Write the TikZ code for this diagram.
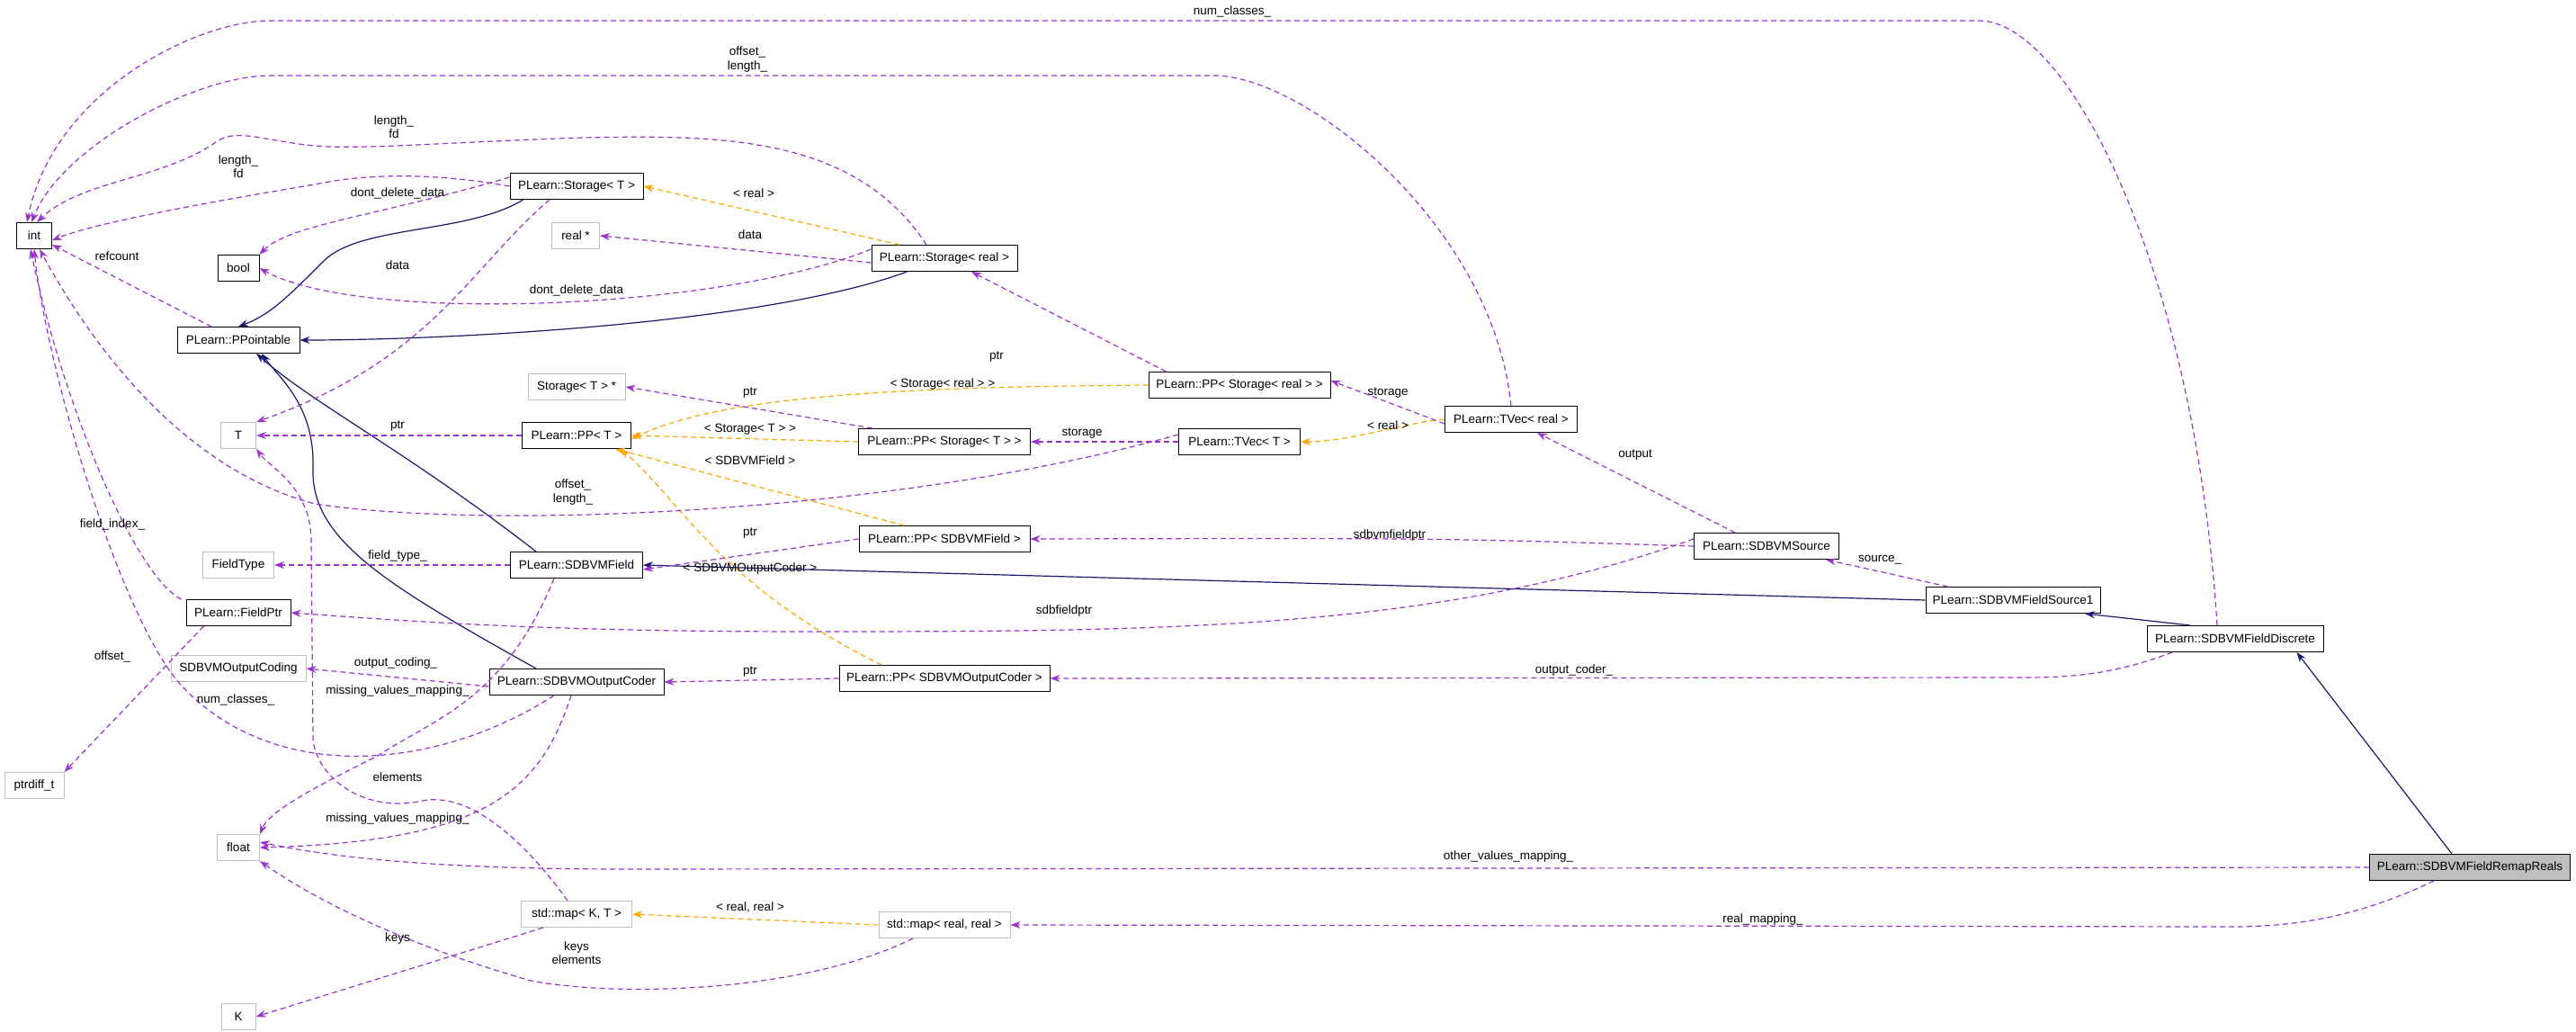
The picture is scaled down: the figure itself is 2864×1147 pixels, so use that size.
\documentclass[tikz,border=0pt]{standalone}
\usepackage{fontspec}
\setmainfont{Liberation Sans}
\usetikzlibrary{arrows.meta}
\definecolor{pu}{HTML}{9A32CD}
\definecolor{orx}{HTML}{FFA500}
\definecolor{nv}{HTML}{191970}
\begin{document}
\begin{tikzpicture}[x=1pt,y=-1pt,
  every node/.style={font=\fontsize{13.5}{15.5}\selectfont},
  cls/.style={draw=black,line width=1pt,minimum height=29pt,inner sep=2pt,fill=white},
  ext/.style={draw=black!25,line width=1pt,minimum height=29pt,inner sep=2pt,fill=white},
  use/.style={draw=pu,line width=1.2pt,dash pattern=on 6pt off 4pt,-{Stealth[length=11pt,width=8pt]}},
  tpl/.style={draw=orx,line width=1.2pt,dash pattern=on 6pt off 4pt,-{Stealth[length=11pt,width=8pt]}},
  inh/.style={draw=nv,line width=1.2pt,-{Stealth[length=11pt,width=8pt]}},
  lbl/.style={inner sep=1pt}]
\useasboundingbox (0,0) rectangle (2864,1147);
% nodes
\node[cls,minimum width=39pt] (int) at (38,262) {int};
\node[cls,minimum width=46pt] (bool) at (265,298) {bool};
\node[cls,minimum width=148pt] (stT) at (641,207) {PLearn::Storage< T >};
\node[ext,minimum width=53pt] (realp) at (640,262) {real *};
\node[cls,minimum width=162pt] (stR) at (1050,287) {PLearn::Storage< real >};
\node[cls,minimum width=136pt] (ppt) at (265,378) {PLearn::PPointable};
\node[ext,minimum width=108pt] (stTp) at (641,430) {Storage< T > *};
\node[ext,minimum width=39pt] (T) at (265,484) {T};
\node[cls,minimum width=121pt] (ppT) at (641,484) {PLearn::PP< T >};
\node[cls,minimum width=191pt] (ppST) at (1050,491) {PLearn::PP< Storage< T > >};
\node[cls,minimum width=202pt] (ppSR) at (1378,428) {PLearn::PP< Storage< real > >};
\node[cls,minimum width=135pt] (tvT) at (1378,491) {PLearn::TVec< T >};
\node[cls,minimum width=147pt] (tvR) at (1680,466) {PLearn::TVec< real >};
\node[cls,minimum width=190pt] (ppF) at (1050,599) {PLearn::PP< SDBVMField >};
\node[ext,minimum width=79pt] (ftype) at (265,628) {FieldType};
\node[cls,minimum width=147pt] (fld) at (641,628) {PLearn::SDBVMField};
\node[cls,minimum width=161pt] (src) at (1964,607) {PLearn::SDBVMSource};
\node[cls,minimum width=116pt] (fptr) at (265,681) {PLearn::FieldPtr};
\node[cls,minimum width=194pt] (src1) at (2238,667) {PLearn::SDBVMFieldSource1};
\node[cls,minimum width=196pt] (disc) at (2485,710) {PLearn::SDBVMFieldDiscrete};
\node[ext,minimum width=150pt] (ocod) at (265,743) {SDBVMOutputCoding};
\node[cls,minimum width=194pt] (oc) at (641,758) {PLearn::SDBVMOutputCoder};
\node[cls,minimum width=234pt] (ppO) at (1050,754) {PLearn::PP< SDBVMOutputCoder >};
\node[ext,minimum width=66pt] (pdt) at (38,873) {ptrdiff\_t};
\node[ext,minimum width=47pt] (flt) at (265,942) {float};
\node[cls,minimum width=223pt,fill=black!25] (rr) at (2746,964) {PLearn::SDBVMFieldRemapReals};
\node[ext,minimum width=123pt] (mKT) at (641,1016) {std::map< K, T >};
\node[ext,minimum width=146pt] (mRR) at (1050,1028) {std::map< real, real >};
\node[ext,minimum width=38pt] (K) at (265,1130) {K};
% inheritance
\draw[inh] ([xshift=15pt]stT.south west) .. controls (520,260) and (400,250) .. (360,290) .. controls (320,330) and (300,350) .. (ppt.north);
\draw[inh] ([xshift=40pt]stR.south west) .. controls (850,360) and (500,378) .. (ppt.east);
\draw[inh] ([xshift=-45pt]fld.north) .. controls (450,500) and (350,450) .. ([xshift=20pt]ppt.south);
\draw[inh] ([xshift=-45pt]oc.north) .. controls (430,650) and (345,600) .. (348,520) .. controls (350,450) and (310,420) .. ([xshift=26pt]ppt.south);
\draw[inh] (src1.west) -- (fld.east);
\draw[inh] ([xshift=-50pt]disc.north) -- ([xshift=80pt]src1.south);
\draw[inh] ([xshift=-20pt]rr.north) -- ([xshift=-30pt]disc.south east);
% templates
\draw[tpl] ([xshift=-50pt]stR.north) -- (stT.east);
\draw[tpl] (ppSR.west) .. controls (1000,430) and (800,440) .. ([yshift=-4pt]ppT.east);
\draw[tpl] (ppST.west) -- (ppT.east);
\draw[tpl] ([xshift=-45pt]ppF.north) -- ([xshift=-18pt]ppT.south east);
\draw[tpl] ([xshift=-70pt]ppO.north) .. controls (800,650) and (760,560) .. ([xshift=-12pt]ppT.south east);
\draw[tpl] (tvR.west) .. controls (1560,470) and (1500,491) .. (tvT.east);
\draw[tpl] (mRR.west) -- (mKT.east);
% usage
\draw[use] ([xshift=-20pt]disc.north) .. controls (2440,300) and (2300,23) .. (2200,23) -- (300,23) .. controls (220,23) and (60,100) .. ([xshift=-8pt]int.north);
\draw[use] (tvR.north) .. controls (1660,250) and (1450,84) .. (1350,84) -- (300,84) .. controls (220,84) and (70,160) .. ([xshift=-3pt]int.north);
\draw[use] ([xshift=-20pt]stR.north) .. controls (950,150) and (800,150) .. (648,153) .. controls (500,158) and (420,165) .. (365,163) .. controls (300,160) and (265,140) .. (240,158) .. controls (180,200) and (90,200) .. ([xshift=3pt]int.north);
\draw[use] (stT.west) .. controls (500,195) and (420,190) .. (350,205) .. controls (200,230) and (100,250) .. ([yshift=-5pt]int.east);
\draw[use] ([yshift=10pt]stT.west) .. controls (420,240) and (320,250) .. (bool.north east);
\draw[use] ([xshift=-30pt]stT.south) .. controls (520,300) and (480,400) .. (T.north east);
\draw[use] ([yshift=10pt]stR.west) .. controls (800,345) and (400,360) .. (bool.east);
\draw[use] ([yshift=-5pt]stR.west) -- (realp.east);
\draw[use] ([xshift=-30pt]ppt.north) -- ([yshift=5pt]int.south east);
\draw[use] ([xshift=20pt]ppSR.north west) -- ([xshift=30pt]stR.south);
\draw[use] ([xshift=-80pt]ppST.north) -- (stTp.east);
\draw[use] (ppT.west) -- (T.east);
\draw[use] (tvT.west) -- (ppST.east);
\draw[use] ([yshift=8pt]tvT.west) .. controls (1000,570) and (550,590) .. (350,560) .. controls (200,520) and (100,380) .. ([xshift=6pt]int.south);
\draw[use] ([yshift=-5pt]tvR.west) -- ([yshift=5pt]ppSR.east);
\draw[use] ([xshift=-35pt]src.north) -- ([xshift=-45pt]tvR.south east);
\draw[use] (src.west) .. controls (1600,598) .. (ppF.east);
\draw[use] ([yshift=8pt]src.west) .. controls (1600,700) and (1300,702) .. (900,702) .. controls (600,702) and (450,690) .. (fptr.east);
\draw[use] (ppF.west) -- ([yshift=-5pt]fld.east);
\draw[use] (fld.west) -- (ftype.east);
\draw[use] ([xshift=-25pt]fld.south) .. controls (560,780) and (480,800) .. (420,840) .. controls (360,870) and (300,900) .. (flt.north east);
\draw[use] ([xshift=-5pt]fptr.north west) .. controls (150,640) and (70,450) .. ([xshift=-4pt]int.south);
\draw[use] ([xshift=20pt]fptr.south west) -- (pdt.north east);
\draw[use] ([yshift=-5pt]oc.west) -- (ocod.east);
\draw[use] ([xshift=-25pt]oc.south) .. controls (480,860) and (300,870) .. (200,760) .. controls (130,680) and (50,400) .. (int.south);
\draw[use] ([xshift=-6pt]oc.south) .. controls (600,880) and (540,935) .. (flt.east);
\draw[use] (ppO.west) -- (oc.east);
\draw[use] ([xshift=25pt]src1.north west) -- ([xshift=-15pt]src.south east);
\draw[use] ([xshift=-70pt]disc.south) .. controls (2350,750) and (2300,753) .. (2250,753) -- (ppO.east);
\draw[use] (rr.west) -- (700,966) .. controls (500,966) and (380,955) .. ([yshift=6pt]flt.east);
\draw[use] ([xshift=-40pt]rr.south) .. controls (2620,1020) and (2550,1030) .. (2480,1030) -- (mRR.east);
\draw[use] ([xshift=25pt]mKT.south west) -- (K.east);
\draw[use] ([xshift=-10pt]mKT.north) .. controls (580,930) and (520,880) .. (470,890) .. controls (400,905) and (350,860) .. (348,820) -- (346,600) .. controls (345,540) and (300,520) .. (T.south east);
\draw[use] ([xshift=-35pt]mRR.south) .. controls (900,1100) and (700,1110) .. (590,1090) .. controls (450,1050) and (350,1000) .. (flt.south east);
% labels
\node[lbl] at (1370,13) {num\_classes\_};
\node[lbl,align=center] at (831,66) {offset\_\\length\_};
\node[lbl,align=center] at (438,141) {length\_\\fd};
\node[lbl,align=center] at (265,185) {length\_\\fd};
\node[lbl] at (442,215) {dont\_delete\_data};
\node[lbl] at (838,215) {< real >};
\node[lbl] at (834,261) {data};
\node[lbl] at (130,285) {refcount};
\node[lbl] at (442,295) {data};
\node[lbl] at (641,323) {dont\_delete\_data};
\node[lbl] at (1108,397) {ptr};
\node[lbl] at (1048,427) {< Storage< real > >};
\node[lbl] at (834,437) {ptr};
\node[lbl] at (1543,437) {storage};
\node[lbl] at (1543,473) {< real >};
\node[lbl] at (442,474) {ptr};
\node[lbl] at (834,477) {< Storage< T > >};
\node[lbl] at (1203,482) {storage};
\node[lbl] at (1818,506) {output};
\node[lbl] at (834,512) {< SDBVMField >};
\node[lbl,align=center] at (637,547) {offset\_\\length\_};
\node[lbl] at (125,583) {field\_index\_};
\node[lbl] at (834,593) {ptr};
\node[lbl] at (1545,595) {sdbvmfieldptr};
\node[lbl] at (442,618) {field\_type\_};
\node[lbl] at (2090,622) {source\_};
\node[lbl] at (834,632) {< SDBVMOutputCoder >};
\node[lbl] at (1183,679) {sdbfieldptr};
\node[lbl] at (125,730) {offset\_};
\node[lbl] at (440,737) {output\_coding\_};
\node[lbl] at (1750,745) {output\_coder\_};
\node[lbl] at (834,747) {ptr};
\node[lbl] at (442,768) {missing\_values\_mapping\_};
\node[lbl] at (262,778) {num\_classes\_};
\node[lbl] at (442,864) {elements};
\node[lbl] at (442,910) {missing\_values\_mapping\_};
\node[lbl] at (1677,952) {other\_values\_mapping\_};
\node[lbl] at (834,1008) {< real, real >};
\node[lbl] at (1960,1022) {real\_mapping\_};
\node[lbl,align=center] at (641,1059) {keys\\elements};
\node[lbl] at (442,1043) {keys};
\end{tikzpicture}
\end{document}
